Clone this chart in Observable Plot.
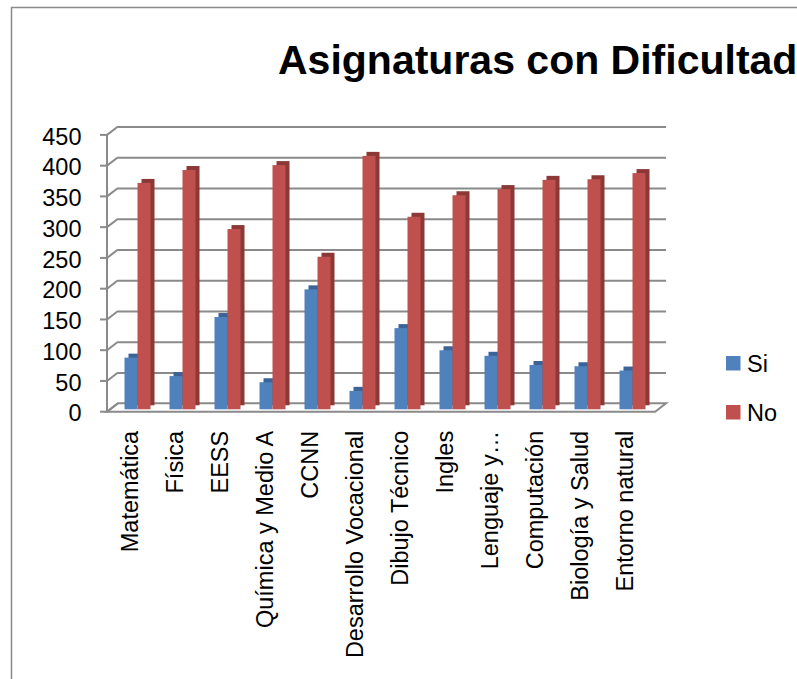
<!DOCTYPE html>
<html><head><meta charset="utf-8">
<script src="https://cdn.jsdelivr.net/npm/d3@7"></script>
<script src="https://cdn.jsdelivr.net/npm/@observablehq/plot@0.6"></script>
<style>
body{margin:0;background:#fff}
#chart{width:797px;height:679px;overflow:hidden}
</style>
</head><body><div id="chart"></div>
<script>
// ---- data ----
const subjects = ["Matemática","Física","EESS","Química y Medio A","CCNN","Desarrollo Vocacional","Dibujo Técnico","Ingles","Lenguaje y…","Computación","Biología y Salud","Entorno natural"];
const siValues = [84,54,150,44,195,30,132,96,87,72,70,63];
const noValues = [368,389,293,397,248,412,313,348,358,373,374,384];
const seriesNames = ["Si","No"];
const yTicks = [0,50,100,150,200,250,300,350,400,450];
const titleText = "Asignaturas con Dificultad";

// ---- styles ----
const FONT = "'Liberation Sans', Arial, sans-serif";
const frontColors = ["#4f81bd","#c0504d"];
const darkColors = ["#3b6397","#8c3836"];
const gridColor = "#8a8a8a";

const rows = subjects.map((s,i)=>({subject:s, si:siValues[i], no:noValues[i]}));

// 3D decoration (walls, floor, title, legend, border) drawn with the plot's scales
function decor(index, scales, values, dims) {
  const g = d3.create("svg:g");
  const y = scales.y;
  const x0 = dims.marginLeft, x1 = dims.width - dims.marginRight;
  const front = {dx:-3.7, dy:2.4}, back = {dx:7.3, dy:-6};
  // outer border
  g.append("rect").attr("x",11.5).attr("y",7.5).attr("width",900).attr("height",900)
    .attr("fill","none").attr("stroke","#8a8a8a").attr("stroke-width",1.5);
  // floor
  const yb = y(0);
  const pts = [[x0+front.dx, yb+front.dy],[x1+front.dx, yb+front.dy],[x1+back.dx, yb+back.dy],[x0+back.dx, yb+back.dy]];
  g.append("polygon").attr("points", pts.map(p=>p.join(",")).join(" "))
    .attr("fill","#fff").attr("stroke",gridColor).attr("stroke-width",2);
  // front axis line
  g.append("line").attr("x1",x0+front.dx).attr("x2",x0+front.dx)
    .attr("y1",y(yTicks[yTicks.length-1])+front.dy).attr("y2",yb+front.dy)
    .attr("stroke",gridColor).attr("stroke-width",2);
  for (const t of yTicks) {
    const yy = y(t);
    g.append("line").attr("x1",x0+front.dx-7).attr("x2",x0+front.dx)
      .attr("y1",yy+front.dy).attr("y2",yy+front.dy).attr("stroke",gridColor).attr("stroke-width",2);
    g.append("line").attr("x1",x0+front.dx).attr("x2",x0+back.dx)
      .attr("y1",yy+front.dy).attr("y2",yy+back.dy).attr("stroke",gridColor).attr("stroke-width",2);
  }
  // title
  g.append("text").attr("x",278).attr("y",74).attr("font-size",41).attr("font-weight","bold")
    .attr("text-anchor","start").attr("font-family",FONT).attr("fill","#000").text(titleText);
  // legend
  const ly = [356, 405];
  seriesNames.forEach((n,i)=>{
    g.append("rect").attr("x",726).attr("y",ly[i]).attr("width",14.5).attr("height",14.5).attr("fill",frontColors[i]);
    g.append("text").attr("x",747).attr("y",ly[i]+16).attr("font-size",23.5).attr("text-anchor","start")
      .attr("font-family",FONT).attr("fill","#000").text(n);
  });
  return g.node();
}

const chart = Plot.plot({
  width: 797, height: 679,
  marginLeft: 110.7, marginRight: 138.2, marginTop: 132.5, marginBottom: 269.7,
  x: {domain: subjects, paddingInner: 0.715, paddingOuter: 0.3575, axis: null},
  y: {domain: [0,450], axis: null},
  style: {fontFamily: FONT, background: "white", overflow: "hidden"},
  marks: [
    decor,
    Plot.ruleY(yTicks.slice(1), {dx: 7.3, dy: -6, stroke: gridColor, strokeWidth: 2}),
    Plot.barY(rows, {x:"subject", y:"si", dx:-6.5+4, dy:-4, fill: darkColors[0]}),
    Plot.barY(rows, {x:"subject", y:"si", dx:-6.5, fill: frontColors[0]}),
    Plot.barY(rows, {x:"subject", y:"no", dx:6.5+4, dy:-4, fill: darkColors[1]}),
    Plot.barY(rows, {x:"subject", y:"no", dx:6.5, fill: frontColors[1]}),
    Plot.text(yTicks, {y: d=>d, frameAnchor:"left", dx:-29.7, dy:4, textAnchor:"end", fontSize:23.5, fill:"#000"}),
    Plot.text(subjects, {x: d=>d, frameAnchor:"bottom", rotate:-90, textAnchor:"end", dy:21, fontSize:23.5, fill:"#000"})
  ]
});
document.getElementById("chart").appendChild(chart);
</script>
</body></html>
